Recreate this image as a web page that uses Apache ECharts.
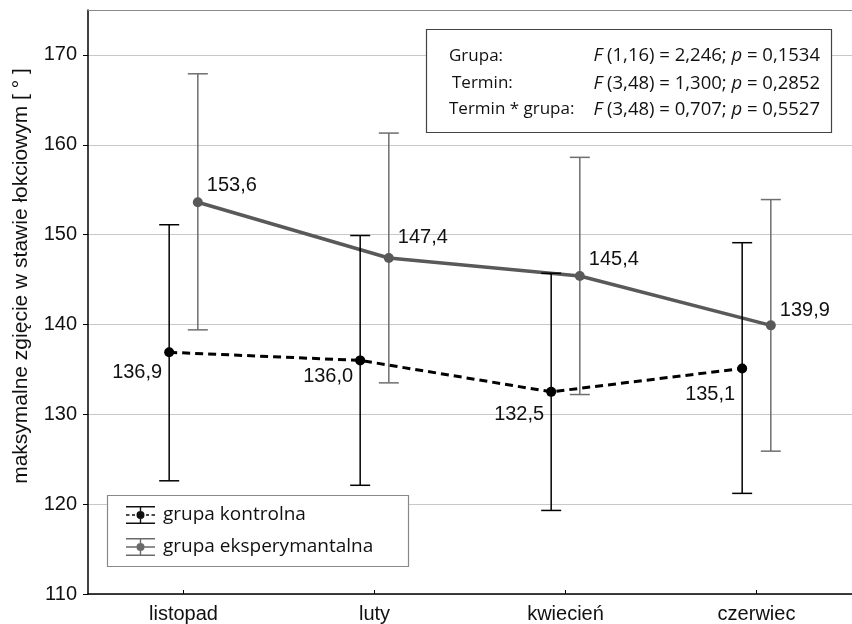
<!DOCTYPE html>
<html>
<head>
<meta charset="utf-8">
<script src="https://cdn.jsdelivr.net/npm/echarts@6/dist/echarts.min.js"></script>
<style>
html,body{margin:0;padding:0;background:#fff;}
#c{width:852px;height:624px;}
</style>
</head>
<body>
<div id="c"></div>
<script>
// ---- data ----
const categories = ['listopad', 'luty', 'kwiecień', 'czerwiec'];
const ctrlMean = [136.9, 136.0, 132.5, 135.1];
const ctrlLow  = [122.6, 122.1, 119.3, 121.2];
const ctrlHigh = [151.1, 149.9, 145.7, 149.1];
const expMean  = [153.6, 147.4, 145.4, 139.9];
const expLow   = [139.4, 133.5, 132.2, 125.9];
const expHigh  = [167.9, 161.3, 158.6, 153.9];
const seriesNames = ['grupa kontrolna', 'grupa eksperymantalna'];
const statLabels = ['Grupa:', 'Termin:', 'Termin * grupa:'];
const statF = ['(1,16) = 2,246;', '(3,48) = 1,300;', '(3,48) = 0,707;'];
const statP = ['0,1534', '0,2852', '0,5527'];
const yTicks = [110, 120, 130, 140, 150, 160, 170];

// ---- layout ----
const OFF = 0.075;          // horizontal dodge of the two groups (category units)
const CTRL_LABEL_DY = [20, 16, 23, 26];
const EXP_LABEL_DY = [-17, -20, -16, -15];
const LABEL_FONT = 'Liberation Sans, Arial, sans-serif';
const BOX_FONT = 'Open Sans, sans-serif';

const fmt = v => v.toFixed(1).replace('.', ',');

const ctrlPts = ctrlMean.map((v, i) => ({
  value: [i - OFF, v],
  label: { offset: [0, CTRL_LABEL_DY[i]] }
}));
const expPts = expMean.map((v, i) => ({
  value: [i + OFF, v],
  label: { offset: [0, EXP_LABEL_DY[i]] }
}));
const ctrlErr = ctrlMean.map((v, i) => [i - OFF, ctrlLow[i], ctrlHigh[i]]);
const expErr = expMean.map((v, i) => [i + OFF, expLow[i], expHigh[i]]);

function errRender(params, api) {
  const x = api.value(0);
  const pHi = api.coord([x, api.value(2)]);
  const pLo = api.coord([x, api.value(1)]);
  const hw = 10;
  const style = { stroke: api.visual('color'), lineWidth: 1.5, fill: null };
  return {
    type: 'group',
    children: [
      { type: 'line', shape: { x1: pHi[0], y1: pHi[1], x2: pLo[0], y2: pLo[1] }, style },
      { type: 'line', shape: { x1: pHi[0] - hw, y1: pHi[1], x2: pHi[0] + hw, y2: pHi[1] }, style },
      { type: 'line', shape: { x1: pLo[0] - hw, y1: pLo[1], x2: pLo[0] + hw, y2: pLo[1] }, style }
    ]
  };
}

const capPath = 'M0 0 H29 V1.6 H0 Z M0 16.4 H29 V18 H0 Z M13.8 0 H15.2 V18 H13.8 Z ' +
  'M18.5 9 A4 4 0 1 1 10.5 9 A4 4 0 1 1 18.5 9 Z ';
const ctrlIcon = 'path://' + capPath +
  'M0 8.3 H3.5 V9.7 H0 Z M6 8.3 H9 V9.7 H6 Z M20 8.3 H23 V9.7 H20 Z M25.5 8.3 H29 V9.7 H25.5 Z';
const expIcon = 'path://' + capPath + 'M0 8.3 H29 V9.7 H0 Z';

const chart = echarts.init(document.getElementById('c'), null, { renderer: 'canvas' });

const rowY = [55.7, 83.3, 109.3];
const rowX = [449, 452, 449];
const boxTexts = [];
statLabels.forEach((t, i) => {
  boxTexts.push({
    type: 'text', x: rowX[i], y: rowY[i], z: 10,
    style: { text: t, font: '17px ' + BOX_FONT, fill: '#111', align: 'left', verticalAlign: 'middle' }
  });
  boxTexts.push({
    type: 'text', x: 820, y: rowY[i], z: 10,
    style: {
      text: '{i|F} ' + statF[i] + ' {i|p} = ' + statP[i],
      font: '18.5px ' + BOX_FONT, fill: '#111', align: 'right', verticalAlign: 'middle',
      rich: { i: { fontStyle: 'italic', fontFamily: BOX_FONT, fontSize: 18.5, fill: '#111' } }
    }
  });
});

chart.setOption({
  animation: false,
  backgroundColor: '#fff',
  grid: { left: 88, top: 10, width: 772, height: 585, containLabel: false },
  xAxis: [{
    type: 'value', min: -0.5, max: 3.5,
    axisLine: { show: true, onZero: false, lineStyle: { color: '#000', width: 1.5 } },
    axisTick: { show: true, inside: true, length: 4, customValues: [0, 1, 2, 3], lineStyle: { color: '#000', width: 1 } },
    axisLabel: {
      show: true, customValues: [0, 1, 2, 3], margin: 10,
      formatter: v => categories[Math.round(v)] || '',
      fontFamily: LABEL_FONT, fontSize: 20, color: '#111'
    },
    splitLine: { show: false }
  }, {
    type: 'value', min: -0.5, max: 3.5, position: 'top',
    axisLine: { show: true, onZero: false, lineStyle: { color: '#8a8a8a', width: 1 } },
    axisTick: { show: false }, axisLabel: { show: false }, splitLine: { show: false }
  }],
  yAxis: {
    type: 'value', min: 110, max: 175, interval: 10,
    name: 'maksymalne zgięcie w stawie łokciowym [ ° ]',
    nameLocation: 'middle', nameGap: 56, nameRotate: 90,
    nameTextStyle: { fontFamily: LABEL_FONT, fontSize: 21, color: '#111', padding: [0, 0, 0, 52] },
    axisLine: { show: true, onZero: false, lineStyle: { color: '#000', width: 1.5 } },
    axisTick: { show: true, length: 5, lineStyle: { color: '#000', width: 1 } },
    axisLabel: {
      margin: 11, fontFamily: LABEL_FONT, fontSize: 20, color: '#111', showMaxLabel: false,
      formatter: v => (yTicks.indexOf(v) >= 0 ? String(v) : '')
    },
    splitLine: { show: true, showMaxLine: false, lineStyle: { color: '#c8c8c8', width: 1 } }
  },
  legend: {
    orient: 'vertical', left: 107, top: 495,
    padding: [10, 10, 10, 19], itemGap: 12,
    itemWidth: 29, itemHeight: 18,
    itemStyle: { borderWidth: 0 },
    textStyle: { fontFamily: BOX_FONT, fontSize: 19, color: '#111', padding: [0, 0, 0, 3], lineHeight: 20 },
    data: [
      { name: seriesNames[0], icon: ctrlIcon, itemStyle: { color: '#111' } },
      { name: seriesNames[1], icon: expIcon, itemStyle: { color: '#6a6a6a' } }
    ],
    selectedMode: false
  },
  graphic: [
    { type: 'rect', z: 3, shape: { x: 107.5, y: 495.5, width: 301, height: 71 },
      style: { fill: '#fff', stroke: '#888', lineWidth: 1.2 } },
    { type: 'rect', z: 9, shape: { x: 426.5, y: 29.5, width: 405, height: 103 },
      style: { fill: '#fff', stroke: '#444', lineWidth: 1.2 } }
  ].concat(boxTexts),
  series: [
    {
      name: seriesNames[1] + ' err', type: 'custom', renderItem: errRender,
      itemStyle: { color: '#6e6e6e' }, data: expErr, z: 2,
      encode: { x: 0, y: [1, 2] }
    },
    {
      name: seriesNames[1], type: 'line', data: expPts, z: 3,
      symbol: 'circle', symbolSize: 10,
      itemStyle: { color: '#595959' },
      lineStyle: { color: '#595959', width: 3.5 },
      label: {
        show: true, position: 'right', distance: 4,
        fontFamily: LABEL_FONT, fontSize: 20, color: '#111',
        formatter: p => fmt(p.value[1])
      }
    },
    {
      name: seriesNames[0] + ' err', type: 'custom', renderItem: errRender,
      itemStyle: { color: '#000' }, data: ctrlErr, z: 4,
      encode: { x: 0, y: [1, 2] }
    },
    {
      name: seriesNames[0], type: 'line', data: ctrlPts, z: 5,
      symbol: 'circle', symbolSize: 10,
      itemStyle: { color: '#000' },
      lineStyle: { color: '#000', width: 3, type: [8, 5] },
      label: {
        show: true, position: 'left', distance: 2,
        fontFamily: LABEL_FONT, fontSize: 20, color: '#111',
        formatter: p => fmt(p.value[1])
      }
    }
  ]
});
</script>
</body>
</html>
